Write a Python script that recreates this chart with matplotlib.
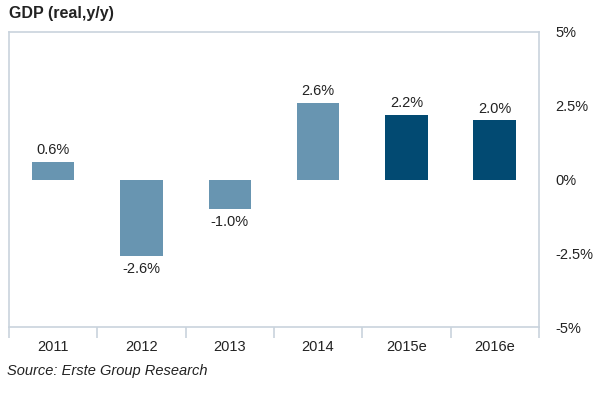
import matplotlib.pyplot as plt
from matplotlib.ticker import FixedLocator

plt.rcParams["font.family"] = ["Liberation Sans", "DejaVu Sans"]

# Datos
years = ["2011", "2012", "2013", "2014", "2015e", "2016e"]
gdp = [0.6, -2.6, -1.0, 2.6, 2.2, 2.0]
estimate = [False, False, False, False, True, True]
y_ticks = [5, 2.5, 0, -2.5, -5]
y_labels = ["5%", "2.5%", "0%", "-2.5%", "-5%"]

light = "#6895b1"
dark = "#024a72"
edge = "#c9d3dd"

fig = plt.figure(figsize=(6, 3.99), dpi=100)
ax = fig.add_axes([0.015, 0.18, 0.883, 0.74])

x = range(len(years))
colors = [dark if e else light for e in estimate]
ax.bar(x, gdp, width=0.48, color=colors, zorder=2)

for i, v in enumerate(gdp):
    off = 0.15 if v >= 0 else -0.2
    ax.text(i, v + off, f"{v:.1f}%", ha="center", va="bottom" if v >= 0 else "top",
            fontsize=10.5, color="#222222")

ax.set_xlim(-0.5, len(years) - 0.5)
ax.set_ylim(-5, 5)

# eje x: ticks entre categorias
ax.xaxis.set_major_locator(FixedLocator([i - 0.5 for i in range(len(years) + 1)]))
ax.xaxis.set_minor_locator(FixedLocator(list(x)))
ax.set_xticklabels([])
ax.set_xticklabels(years, minor=True)
ax.tick_params(axis="x", which="major", length=8, color=edge, width=1.2)
ax.tick_params(axis="x", which="minor", length=0, labelsize=10.5, pad=9, labelcolor="#222222")

ax.yaxis.tick_right()
ax.set_yticks(y_ticks)
ax.set_yticklabels(y_labels)
ax.tick_params(axis="y", length=0, labelsize=10.5, pad=12, labelcolor="#222222")

for s in ax.spines.values():
    s.set_color(edge)
    s.set_linewidth(1.2)

fig.text(0.015, 0.955, "GDP (real,y/y)", fontsize=11.5, fontweight="bold", color="#222222")
fig.text(0.012, 0.06, "Source: Erste Group Research", fontsize=10.5, style="italic", color="#222222")

fig.savefig("out.png", dpi=100)
